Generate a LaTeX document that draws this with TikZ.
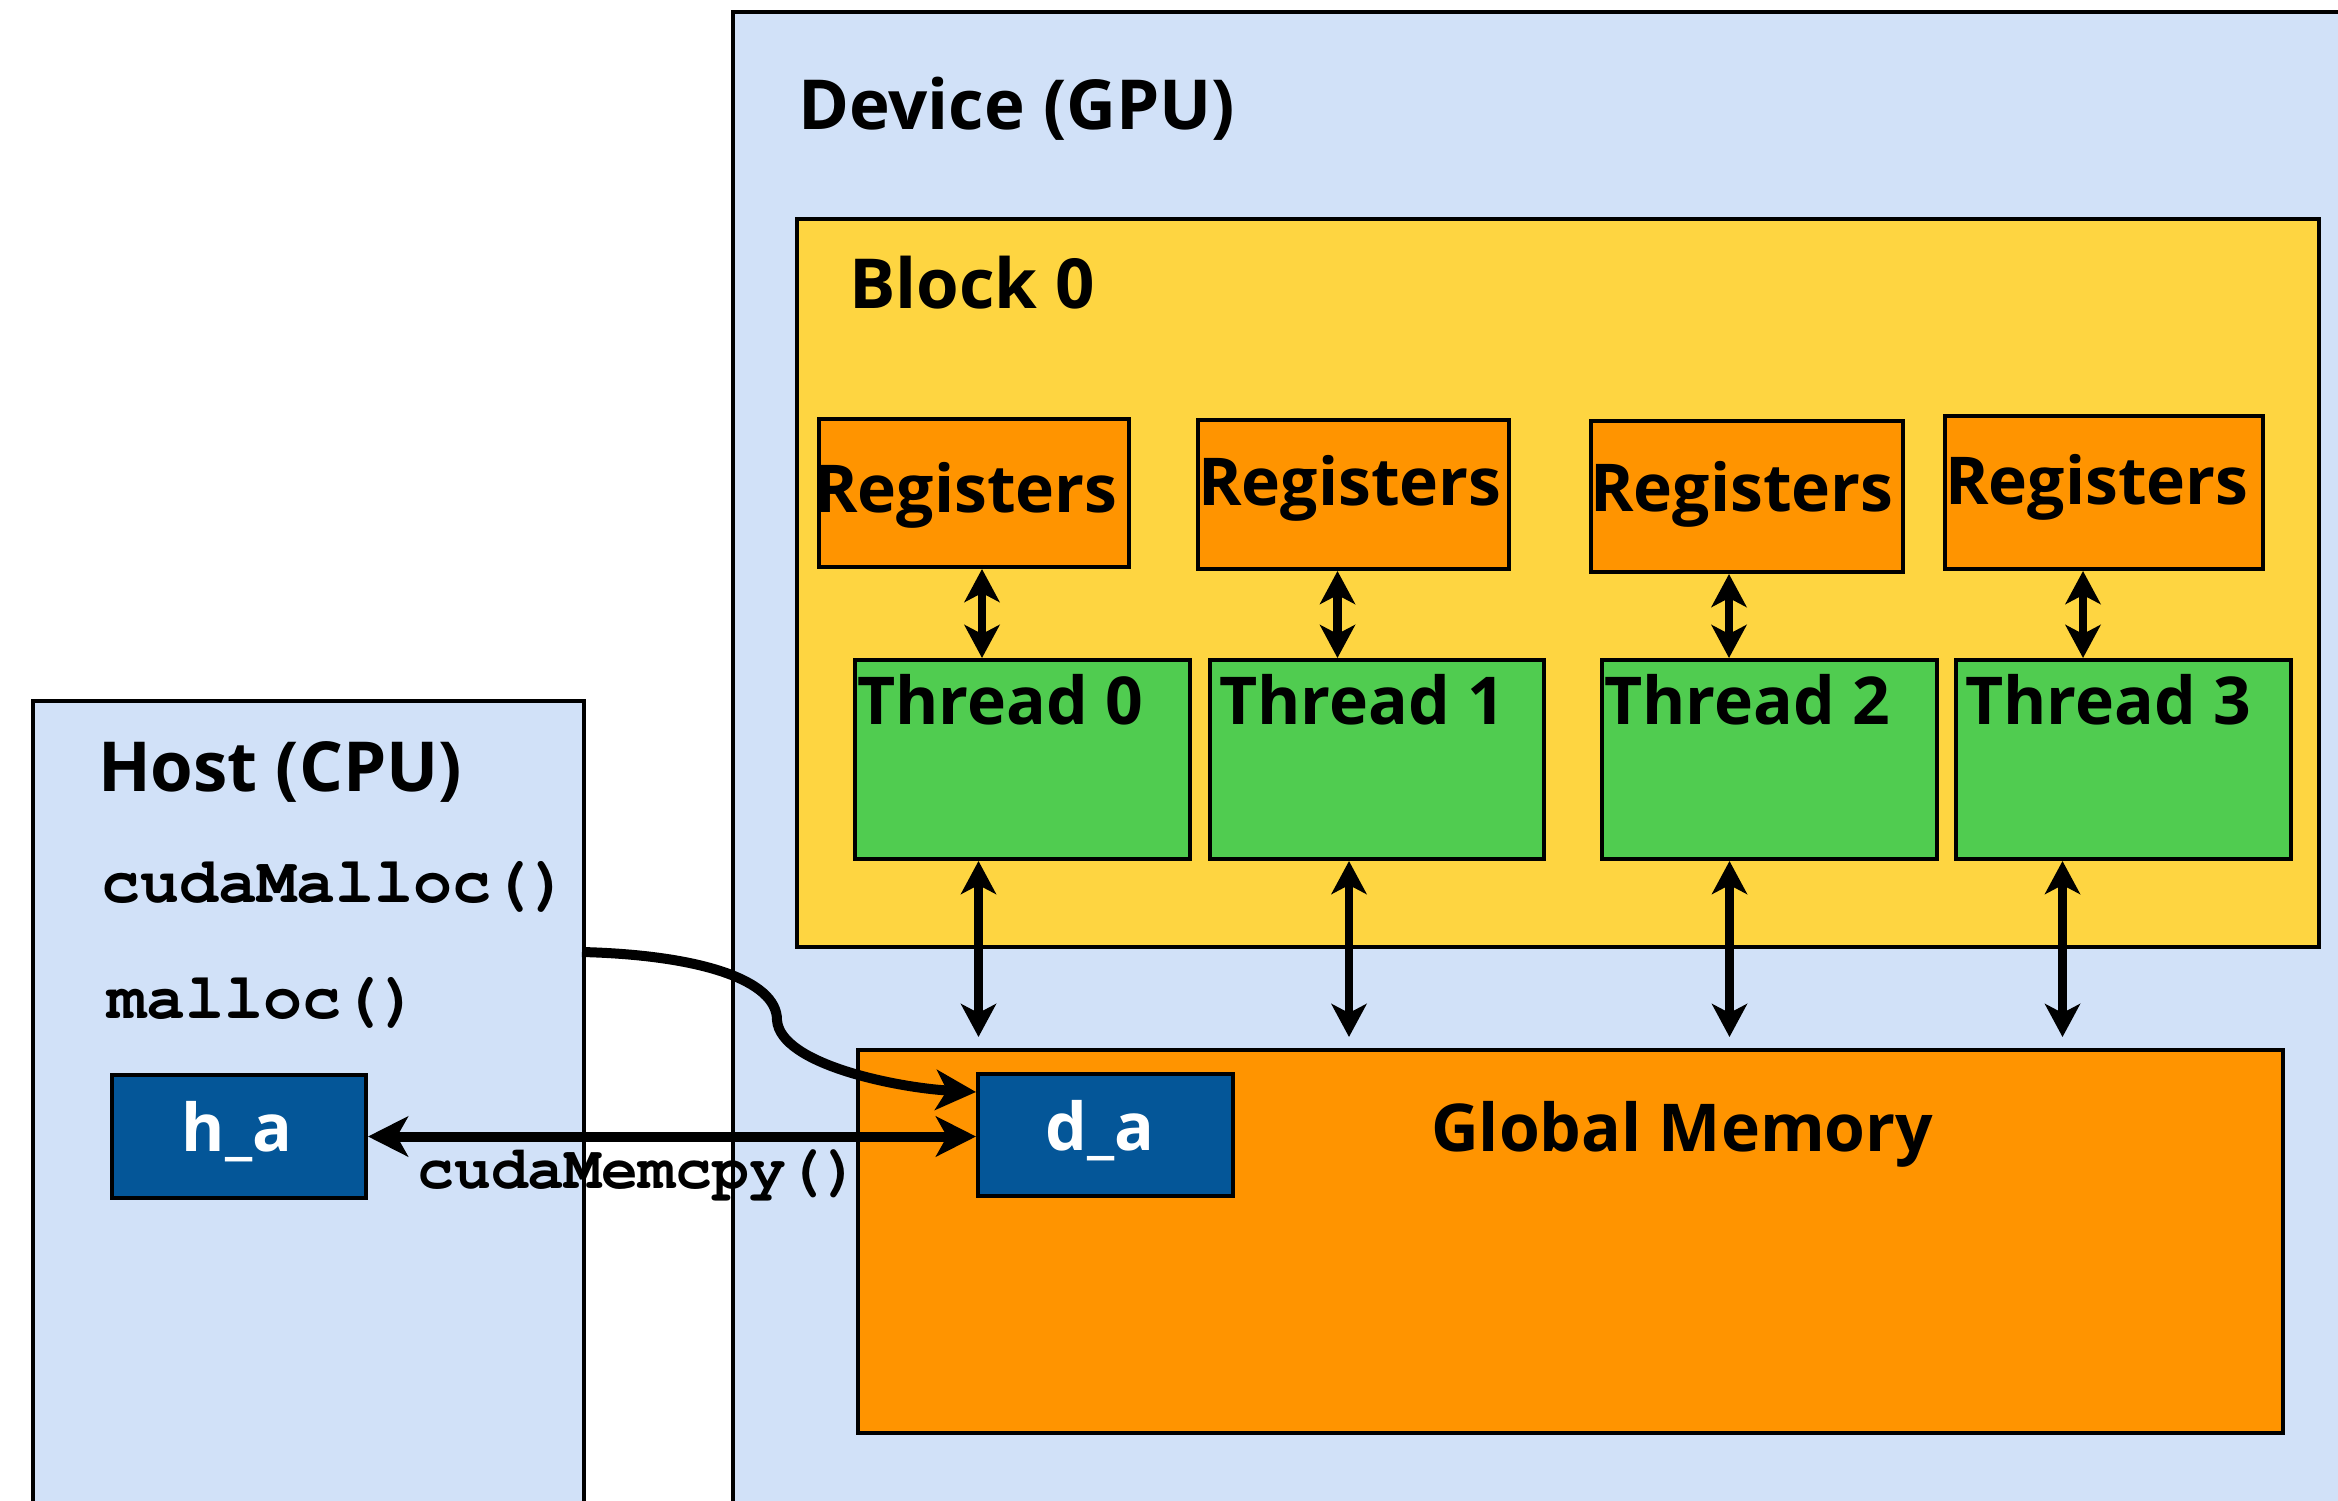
\documentclass[tikz,border=0pt]{standalone}
\usepackage{fontspec}
\setmainfont{Open Sans}
\setmonofont{TeX Gyre Cursor}
\usetikzlibrary{arrows.meta}
\definecolor{bgblue}{RGB}{209,225,248}
\definecolor{blockyellow}{RGB}{254,213,65}
\definecolor{regorange}{RGB}{255,148,0}
\definecolor{thrgreen}{RGB}{80,204,80}
\definecolor{dblue}{RGB}{4,86,152}
\begin{document}
\begin{tikzpicture}[x=1pt,y=-1pt,
  panel/.style={draw=black, line width=4pt, inner sep=0pt, anchor=north west},
  lbl/.style={font=\fontsize{66}{78}\selectfont\bfseries, inner sep=0pt, anchor=base west},
  biglbl/.style={lbl, font=\fontsize{69}{80}\selectfont\bfseries},
  reglbl/.style={font=\fontsize{66}{78}\selectfont\bfseries, inner sep=0pt, anchor=base},
  codelbl/.style={font=\fontsize{65}{72}\selectfont\ttfamily\bfseries, inner sep=0pt, anchor=base west},
  dbl/.style={{Stealth[length=33pt,width=35pt,inset=9pt]}-{Stealth[length=33pt,width=35pt,inset=9pt]}, line width=8.5pt},
  bigdbl/.style={{Stealth[length=40pt,width=40pt,inset=11pt]}-{Stealth[length=40pt,width=40pt,inset=11pt]}, line width=10pt},
  bigone/.style={-{Stealth[length=40pt,width=40pt,inset=11pt]}, line width=10pt},
]
\useasboundingbox (0,0) rectangle (2338,1501);
\clip (0,0) rectangle (2338,1501);
\fill[white] (0,0) rectangle (2338,1501);

% Host
\node[panel, fill=bgblue, minimum width=551pt, minimum height=820pt] (host) at (31,699) {};
\node[biglbl] (hosttxt) at (98,791) {Host (CPU)};
\node[codelbl] (cmalloc) at (101,902) {cudaMalloc()};
\node[codelbl] (malloc) at (107,1018) {malloc()};
\node[panel, fill=dblue, minimum width=254pt, minimum height=123pt] (ha) at (110,1073) {};
\node[lbl, text=white, anchor=base] (hatxt) at (237,1151) {h\_a};

% Device
\node[panel, fill=bgblue, minimum width=1700pt, minimum height=1600pt] (dev) at (731,10) {};
\node[biglbl] (devtxt) at (798,130) {Device (GPU)};

% Block
\node[panel, fill=blockyellow, minimum width=1522pt, minimum height=728pt] (blk) at (795,217) {};
\node[biglbl] (blktxt) at (849,308) {Block 0};

% Registers
\node[panel, fill=regorange, minimum width=310pt, minimum height=148pt] (r0) at (817,417) {};
\node[panel, fill=regorange, minimum width=311pt, minimum height=149pt] (r1) at (1196,418) {};
\node[panel, fill=regorange, minimum width=312pt, minimum height=151pt] (r2) at (1589,419) {};
\node[panel, fill=regorange, minimum width=318pt, minimum height=153pt] (r3) at (1943,414) {};
\node[reglbl] (r0t) at (966,512) {Registers};
\node[reglbl] (r1t) at (1350,505) {Registers};
\node[reglbl] (r2t) at (1742,511) {Registers};
\node[reglbl] (r3t) at (2097,504) {Registers};

% Threads
\node[panel, fill=thrgreen, minimum width=335pt, minimum height=199pt] (t0) at (853,658) {};
\node[panel, fill=thrgreen, minimum width=334pt, minimum height=199pt] (t1) at (1208,658) {};
\node[panel, fill=thrgreen, minimum width=335pt, minimum height=199pt] (t2) at (1600,658) {};
\node[panel, fill=thrgreen, minimum width=335pt, minimum height=199pt] (t3) at (1954,658) {};
\node[lbl] (t0t) at (857,724) {Thread 0};
\node[lbl] (t1t) at (1219,724) {Thread 1};
\node[lbl] (t2t) at (1604,724) {Thread 2};
\node[lbl] (t3t) at (1965,724) {Thread 3};

% Global memory
\node[panel, fill=regorange, minimum width=1425pt, minimum height=383pt] (gm) at (856,1048) {};
\node[lbl] (gmt) at (1431,1151) {Global Memory};
\node[panel, fill=dblue, minimum width=255pt, minimum height=122pt] (da) at (976,1072) {};
\node[lbl, text=white, anchor=base] (dat) at (1100,1150) {d\_a};

% Register <-> thread arrows
\draw[dbl] ([xshift=8pt]r0.south) -- ([xshift=8pt]r0.south |- t0.north);
\draw[dbl] ([xshift=-16pt]r1.south) -- ([xshift=-16pt]r1.south |- t1.north);
\draw[dbl] ([xshift=-18pt]r2.south) -- ([xshift=-18pt]r2.south |- t2.north);
\draw[dbl] ([xshift=-21pt]r3.south) -- ([xshift=-21pt]r3.south |- t3.north);

% Thread <-> global arrows
\draw[dbl, shorten >=11pt] ([xshift=-44pt]t0.south) -- ([xshift=-44pt]t0.south |- gm.north);
\draw[dbl, shorten >=11pt] ([xshift=-28pt]t1.south) -- ([xshift=-28pt]t1.south |- gm.north);
\draw[dbl, shorten >=11pt] ([xshift=-40pt]t2.south) -- ([xshift=-40pt]t2.south |- gm.north);
\draw[dbl, shorten >=11pt] ([xshift=-61pt]t3.south) -- ([xshift=-61pt]t3.south |- gm.north);

% cudaMemcpy
\draw[bigdbl] (ha.east) -- (ha.east -| da.west);
\node[codelbl, font=\fontsize{61.5}{68}\selectfont\ttfamily\bfseries] (memcpy) at (417,1188) {cudaMemcpy()};

% cudaMalloc curve
\coordinate (cmstart) at (582,952);
\draw[bigone] (cmstart) .. controls (700,955) and (777,980) .. (777,1020)
  .. controls (780,1065) and (900,1088) .. ([yshift=43pt]da.west);
\end{tikzpicture}
\end{document}
